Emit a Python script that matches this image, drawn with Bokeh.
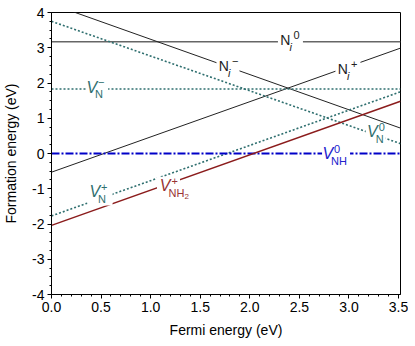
import numpy as np
from bokeh.plotting import figure
from bokeh.models import Range1d, SingleIntervalTicker, NumeralTickFormatter
from bokeh.core.properties import value
from bokeh.embed import file_html
from bokeh.resources import INLINE

# ---------------- data ----------------
fermi_range = [0.0, 3.52]                 # Fermi energy (eV) at both ends
Ni_0 = [3.17, 3.17]                       # formation energies (eV) at those ends
Ni_minus = [4.24, 0.72]
Ni_plus = [-0.53, 2.99]
VN_minus = [1.83, 1.83]
VN_0 = [3.75, 0.28]
VN_plus = [-1.77, 1.75]
VNH_0 = [0.0, 0.0]
VNH2_plus = [-2.04, 1.48]

x_ticks_interval = 0.5
y_ticks_interval = 1

FONT = "Liberation Sans"
TEAL = "#2f6f6f"
BLUE = "#0000c8"
RED = "#8b1c1c"

p = figure(width=408, height=340, x_range=Range1d(0, 3.52), y_range=Range1d(-4, 4),
           output_backend="svg", toolbar_location=None,
           min_border_left=51, min_border_top=12, min_border_right=8, min_border_bottom=45)
p.grid.visible = False
p.outline_line_color = "black"
p.outline_line_width = 1
p.background_fill_color = "white"
p.border_fill_color = "white"

p.xaxis.ticker = SingleIntervalTicker(interval=x_ticks_interval, num_minor_ticks=5)
p.yaxis.ticker = SingleIntervalTicker(interval=y_ticks_interval, num_minor_ticks=4)
p.xaxis.formatter = NumeralTickFormatter(format="0.0")
p.yaxis.formatter = NumeralTickFormatter(format="0")
for ax in (p.xaxis, p.yaxis):
    ax.major_tick_in = 0
    ax.major_tick_out = 4
    ax.minor_tick_in = 0
    ax.minor_tick_out = 2
    ax.axis_line_color = "black"
    ax.major_tick_line_color = "black"
    ax.minor_tick_line_color = "black"
    ax.major_label_text_font = FONT
    ax.major_label_text_font_size = "14px"
    ax.major_label_text_color = "black"
    ax.axis_label_text_font = FONT
    ax.axis_label_text_font_size = "14px"
    ax.axis_label_text_font_style = "normal"
    ax.axis_label_text_color = "black"
    ax.major_label_standoff = 3
p.xaxis.axis_label = "Fermi energy (eV)"
p.yaxis.axis_label = "Formation energy (eV)"
p.xaxis.axis_label_standoff = 7
p.yaxis.axis_label_standoff = 10

# ---------------- lines ----------------
DOT = "2 2"
p.line(fermi_range, Ni_0, line_color="#666666", line_width=1.5)
p.line(fermi_range, Ni_minus, line_color="#222222", line_width=1)
p.line(fermi_range, Ni_plus, line_color="#222222", line_width=1)
p.line(fermi_range, VN_minus, line_color=TEAL, line_width=1.6, line_dash=DOT)
p.line(fermi_range, VN_0, line_color=TEAL, line_width=1.6, line_dash=DOT)
p.line(fermi_range, VN_plus, line_color=TEAL, line_width=1.6, line_dash=DOT)
p.line(fermi_range, VNH_0, line_color=BLUE, line_width=2, line_dash="8 2 2 2")
p.line(fermi_range, VNH2_plus, line_color=RED, line_width=1.5)

# ---------------- label gaps (white) ----------------
gaps = [  # (line, x of gap centre, gap width px)
    (Ni_0, 2.41, 25), (Ni_minus, 1.78, 23), (Ni_plus, 2.99, 25),
    (VN_minus, 0.46, 22), (VN_0, 3.27, 20), (VNH_0, 2.87, 28),
    (VN_plus, 0.49, 25), (VNH2_plus, 1.18, 23),
]
for line, gx, gw in gaps:
    gy = float(np.interp(gx, fermi_range, line))
    p.rect(x=[gx], y=[gy], width=gw, height=14, width_units="screen", height_units="screen",
           fill_color="white", line_color=None)

# ---------------- labels ----------------
# (main, main italic, sub, sub italic, sup, sub2, anchor x, anchor y, colour, main size, sub dx, sup dx)
labels = [
    ("N", False, "i", True, "0", "", 2.41, 3.22, "#222222", 14, -1, 3),
    ("N", False, "i", True, "\u2212", "", 1.79, 2.48, "#222222", 14, -1, 3),
    ("N", False, "i", True, "+", "", 2.99, 2.41, "#222222", 14, -1, 3),
    ("V", True, "N", False, "\u2212", "", 0.46, 1.88, TEAL, 16, -2, 1),
    ("V", True, "N", False, "0", "", 3.29, 0.61, TEAL, 16, -2, 1),
    ("V", True, "NH", False, "0", "", 2.84, 0.0, "#2222cc", 16, -2, 1),
    ("V", True, "N", False, "+", "", 0.49, -1.08, TEAL, 16, -2, 1),
    ("V", True, "NH", False, "+", "2", 1.20, -0.92, "#993333", 16, -2, 1),
]
for main, mit, sub, sit, sup, sub2, axx, ayy, col, msz, sdx, udx in labels:
    p.text(x=[axx], y=[ayy], text=[main], text_align="right", text_baseline="middle",
           text_font=value(FONT), text_font_size=f"{msz}px",
           text_font_style="italic" if mit else "normal", text_color=col)
    p.text(x=[axx], y=[ayy], text=[sub], x_offset=sdx, y_offset=7, text_align="left",
           text_baseline="middle", text_font=value(FONT), text_font_size="11px",
           text_font_style="italic" if sit else "normal", text_color=col)
    p.text(x=[axx], y=[ayy], text=[sup], x_offset=udx, y_offset=-5, text_align="left",
           text_baseline="middle", text_font=value(FONT), text_font_size="11px",
           text_color=col)
    if sub2:
        p.text(x=[axx], y=[ayy], text=[sub2], x_offset=sdx + 16, y_offset=11, text_align="left",
               text_baseline="middle", text_font=value(FONT), text_font_size="8px",
               text_color=col)

open("out.html", "w").write(file_html(p, INLINE))
